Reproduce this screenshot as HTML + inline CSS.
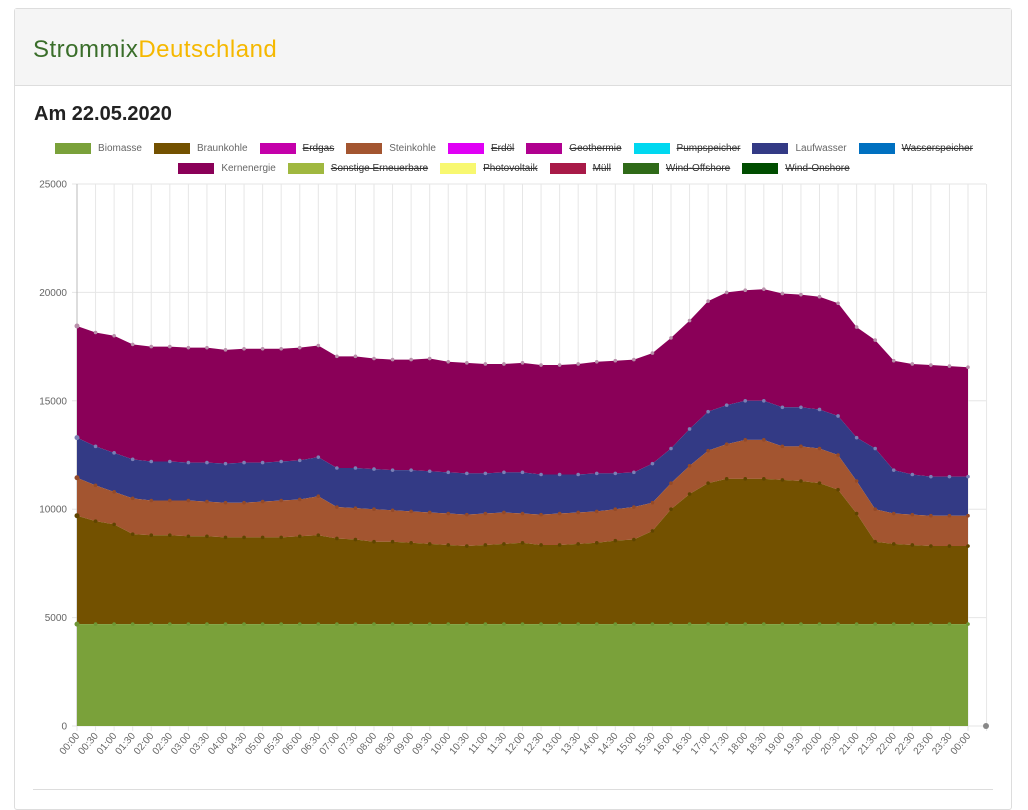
<!DOCTYPE html>
<html><head><meta charset="utf-8"><style>
body{margin:0;background:#fff;font-family:"Liberation Sans",sans-serif;}
.card{position:absolute;left:14px;top:8px;width:996px;height:800px;border:1px solid #ddd;border-radius:3px;}
.hdr{height:76px;background:#f5f5f5;border-bottom:1px solid #ddd;}
.logo{position:absolute;left:18px;top:27px;font-size:24px;letter-spacing:0.5px;}
h2{position:absolute;left:19px;top:94px;margin:0;font-size:20px;font-weight:bold;color:#222;}
.leg{position:absolute;left:0;width:1028px;display:flex;justify-content:center;font-size:10px;color:#666;}
.leg span{display:inline-flex;align-items:center;margin:0 6px;}
.leg i{display:inline-block;width:36px;height:11px;margin-right:7px;}
.leg s{color:#333;}
</style></head><body>
<div class="card"><div class="hdr"></div>
<div class="logo"><span style="color:#3a6e2a">Strommix</span><span style="color:#f5b800">Deutschland</span></div>
<h2>Am 22.05.2020</h2></div>
<div class="leg" style="top:143px;left:0">
<span><i style="background:#7aa13a"></i>Biomasse</span>
<span><i style="background:#735100"></i>Braunkohle</span>
<span><i style="background:#c400aa"></i><s>Erdgas</s></span>
<span><i style="background:#a35530"></i>Steinkohle</span>
<span><i style="background:#e000f5"></i><s>Erdöl</s></span>
<span><i style="background:#b0008f"></i><s>Geothermie</s></span>
<span><i style="background:#00d8f0"></i><s>Pumpspeicher</s></span>
<span><i style="background:#333a85"></i>Laufwasser</span>
<span><i style="background:#0070c0"></i><s>Wasserspeicher</s></span>
</div>
<div class="leg" style="top:163px;left:0">
<span><i style="background:#8a0058"></i>Kernenergie</span>
<span><i style="background:#a0b840"></i><s>Sonstige Erneuerbare</s></span>
<span><i style="background:#f8f870"></i><s>Photovoltaik</s></span>
<span><i style="background:#a81a48"></i><s>Müll</s></span>
<span><i style="background:#2f6a18"></i><s>Wind-Offshore</s></span>
<span><i style="background:#004d00"></i><s>Wind-Onshore</s></span>
</div>
<svg id="c" width="1028" height="792" style="position:absolute;left:0;top:0" font-family="Liberation Sans, sans-serif"></svg>
<div style="position:absolute;left:33px;top:789px;width:960px;border-top:1px solid #ddd"></div>
<script>
const X0=77,ST=18.5625,Y0=726,K=542/25000;
const bio=Array(49).fill(4700);
const bk=[9700,9450,9300,8850,8800,8800,8750,8750,8700,8700,8700,8700,8750,8800,8650,8600,8500,8500,8450,8400,8350,8300,8350,8400,8450,8350,8350,8400,8450,8550,8600,9000,10000,10700,11200,11400,11400,11400,11350,11300,11200,10900,9800,8500,8400,8350,8300,8300,8300];
const sk=[11450,11100,10800,10500,10400,10400,10400,10350,10300,10300,10350,10400,10450,10600,10100,10050,10000,9950,9900,9850,9800,9750,9800,9850,9800,9750,9800,9850,9900,10000,10100,10300,11200,12000,12700,13000,13200,13200,12900,12900,12800,12500,11300,10000,9800,9750,9700,9700,9700];
const lw=[13300,12900,12600,12300,12200,12200,12150,12150,12100,12150,12150,12200,12250,12400,11900,11900,11850,11800,11800,11750,11700,11650,11650,11700,11700,11600,11600,11600,11650,11650,11700,12100,12800,13700,14500,14800,15000,15000,14700,14700,14600,14300,13300,12800,11800,11600,11500,11500,11500];
const ke=[18450,18150,18000,17600,17500,17500,17450,17450,17350,17400,17400,17400,17450,17550,17050,17050,16950,16900,16900,16950,16800,16750,16700,16700,16750,16650,16650,16700,16800,16850,16900,17200,17900,18700,19600,20000,20100,20150,19950,19900,19800,19500,18400,17800,16850,16700,16650,16600,16550];
const S=document.getElementById('c');let h='';
for(let i=0;i<=49;i++){const x=X0+i*ST;h+=`<line x1="${x}" y1="184" x2="${x}" y2="731" stroke="#e6e6e6"/>`;}
for(let v=0;v<=25000;v+=5000){const y=Y0-v*K;h+=`<line x1="72" y1="${y}" x2="986" y2="${y}" stroke="#e6e6e6"/><text x="67" y="${y+3.5}" font-size="10" fill="#666" text-anchor="end">${v}</text>`;}
h+=`<line x1="77" y1="184" x2="77" y2="726" stroke="#bbb"/>`;
const px=i=>X0+i*ST,py=v=>Y0-v*K;
function area(top,bot,col){let d='M'+px(0)+','+py(top[0]);for(let i=1;i<49;i++)d+='L'+px(i)+','+py(top[i]);for(let i=48;i>=0;i--)d+='L'+px(i)+','+py(bot?bot[i]:0);h+=`<path d="${d}Z" fill="${col}"/>`;}
area(ke,lw,'#8a0058');area(lw,sk,'#333a85');area(sk,bk,'#a35530');area(bk,bio,'#735100');area(bio,null,'#7aa13a');
[[ke,'#b890aa'],[lw,'#7a80b5'],[sk,'#944a28'],[bk,'#5f4400'],[bio,'#6e9634']].forEach(([a,c])=>{for(let i=0;i<49;i++)h+=`<circle cx="${px(i)}" cy="${py(a[i])}" r="${i==0?2.5:1.8}" fill="${c}"/>`;});
h+=`<circle cx="986" cy="726" r="3" fill="#888"/>`;
for(let i=0;i<49;i++){const hh=Math.floor(i/2),m=i%2?'30':'00';const t=(i==48?'00':String(hh).padStart(2,'0'))+':'+m;const x=px(i)+3,y=736;h+=`<text x="${x}" y="${y}" font-size="10" fill="#666" text-anchor="end" transform="rotate(-50 ${x} ${y})">${t}</text>`;}
S.innerHTML=h;
</script>
</body></html>
